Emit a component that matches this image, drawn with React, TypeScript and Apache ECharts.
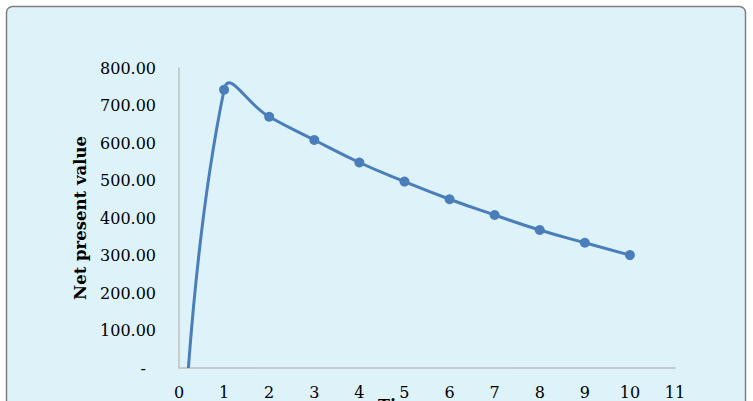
import * as echarts from 'echarts';
import React, { useEffect, useRef } from 'react';

const years = [0, 1, 2, 3, 4, 5, 6, 7, 8, 9, 10];
// year 0 lies below the axis and is clipped in the picture, its value is estimated
const npvValues = [-500, 742, 670, 608, 548, 497, 450, 408, 368, 334, 301];

const LINE_COLOR = '#4A7EBB';
const SMOOTH = 0.5;

// Excel-like smoothed path through the pixel points (no clamping, so it can overshoot)
const smoothPath = (pts: number[][]) => {
  let d = `M${pts[0][0]},${pts[0][1]}`;
  const n = pts.length;
  const outCp: number[][] = [];
  const inCp: number[][] = [];
  for (let i = 0; i < n; i++) {
    const p = pts[i];
    const prev = pts[Math.max(i - 1, 0)];
    const next = pts[Math.min(i + 1, n - 1)];
    if (i === 0 || i === n - 1) {
      outCp[i] = p;
      inCp[i] = p;
      continue;
    }
    const vx = next[0] - prev[0];
    const vy = next[1] - prev[1];
    const lp = Math.hypot(p[0] - prev[0], p[1] - prev[1]);
    const ln = Math.hypot(next[0] - p[0], next[1] - p[1]);
    const r = ln / (ln + lp);
    outCp[i] = [p[0] + vx * SMOOTH * r, p[1] + vy * SMOOTH * r];
    inCp[i] = [p[0] - vx * SMOOTH * (1 - r), p[1] - vy * SMOOTH * (1 - r)];
  }
  for (let i = 0; i < n - 1; i++) {
    const a = outCp[i];
    const b = inCp[i + 1];
    const e = pts[i + 1];
    d += ` C${a[0]},${a[1]} ${b[0]},${b[1]} ${e[0]},${e[1]}`;
  }
  return d;
};

const NpvChart: React.FC = () => {
  const chartRef = useRef<HTMLDivElement>(null);

  useEffect(() => {
    if (!chartRef.current) return;
    const chart = echarts.init(chartRef.current, null, { renderer: 'svg' });

    const font = '"DejaVu Serif", serif';
    const points = years.map((x, i) => [x, npvValues[i]]);

    const option: echarts.EChartsOption = {
      animation: false,
      backgroundColor: '#ffffff',
      graphic: [
        {
          type: 'rect',
          z: -10,
          shape: { x: 6.5, y: 6.5, width: 739, height: 430, r: 6 },
          style: { fill: '#DEF2FA', stroke: '#7F7F7F', lineWidth: 1.5 },
        },
        {
          type: 'text',
          left: 378,
          top: 397,
          style: {
            text: 'Time',
            font: `bold 16px ${font}`,
            fill: '#000000',
          },
        },
      ],
      grid: { left: 179, right: 78, top: 68, bottom: 33 },
      xAxis: {
        type: 'value',
        min: 0,
        max: 11,
        interval: 1,
        splitLine: { show: false },
        axisTick: { show: false },
        axisLine: { lineStyle: { color: '#BFBFBF', width: 1.5 } },
        axisLabel: {
          margin: 16,
          color: '#000000',
          fontFamily: font,
          fontSize: 16,
        },
      },
      yAxis: {
        type: 'value',
        min: 0,
        max: 800,
        interval: 100,
        name: 'Net present value',
        nameLocation: 'middle',
        nameRotate: 90,
        nameGap: 88,
        nameTextStyle: {
          color: '#000000',
          fontFamily: font,
          fontWeight: 'bold',
          fontSize: 16.5,
        },
        splitLine: { show: false },
        axisTick: { show: false },
        axisLine: { show: true, lineStyle: { color: '#BFBFBF', width: 1.5 } },
        axisLabel: {
          margin: 23,
          color: '#000000',
          fontFamily: font,
          fontSize: 16,
          formatter: (v: number) => (v === 0 ? '-  ' : v.toFixed(2)),
        },
      },
      series: [
        {
          type: 'custom',
          data: points,
          clip: true,
          z: 2,
          renderItem: (params: any, api: any) => {
            if (params.dataIndex !== 0) return null;
            const px = points.map((p) => api.coord(p));
            const cs = params.coordSys;
            return {
              type: 'group',
              children: [
                {
                  type: 'path',
                  shape: { pathData: smoothPath(px) },
                  style: { fill: 'none', stroke: LINE_COLOR, lineWidth: 3 },
                },
              ],
              clipPath: {
                type: 'rect',
                shape: { x: cs.x, y: cs.y - 20, width: cs.width, height: cs.height + 20 },
              },
            };
          },
        },
        {
          type: 'scatter',
          data: points,
          clip: true,
          z: 3,
          symbol: 'circle',
          symbolSize: 10,
          itemStyle: { color: LINE_COLOR, opacity: 1 },
        },
      ],
    };

    chart.setOption(option);
    return () => {
      chart.dispose();
    };
  }, []);

  return (
    <div
      ref={chartRef}
      style={{ position: 'absolute', left: 0, top: 0, width: '753px', height: '401px' }}
    />
  );
};

export default function App() {
  return <NpvChart />;
}
